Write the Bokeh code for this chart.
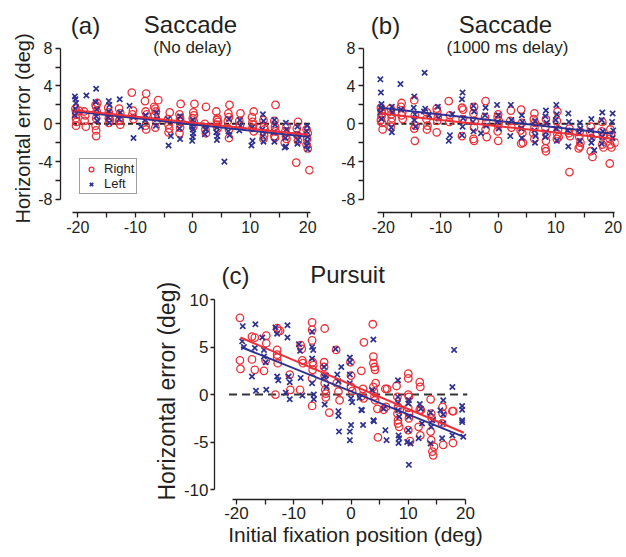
from bokeh.plotting import figure
from bokeh.models import FixedTicker, Label, Legend, LegendItem, Spacer, Range1d, Title
from bokeh.layouts import row, column
from bokeh.embed import file_html
from bokeh.resources import INLINE

RED = "#ed2f37"
BLUE = "#2e3192"
INK = "#231f20"
FONT = "Liberation Sans"

# ---------------- data ----------------
a_right = [(-20.4,1.6),(-20.3,1.3),(-20.2,1.0),(-20.3,0.6),(-20.2,0.2),(-20.3,-0.2),(-19.8,1.4),
           (-18.9,1.3),(-18.7,0.9),(-18.8,0.3),(-18.6,-0.3),
           (-16.6,2.2),(-16.9,2.0),(-16.8,1.8),(-16.7,1.3),(-16.8,0.6),(-16.9,-0.2),(-16.8,-0.7),(-16.8,-1.3),
           (-14.7,1.7),(-14.6,1.2),(-14.5,0.9),(-14.6,0.6),(-14.4,0.4),(-14.6,0.1),
           (-12.8,1.6),(-12.6,1.1),(-12.7,0.4),(-12.8,0.3),(-12.6,-0.1),
           (-10.6,3.3),(-10.4,1.4),(-10.5,1.0),(-10.3,0.5),
           (-8.1,3.2),(-8.3,2.4),(-8.2,1.3),(-8.0,1.0),(-8.2,-0.2),(-8.1,-0.6),
           (-6.0,2.5),(-6.7,1.8),(-6.5,1.6),(-6.4,1.3),(-6.6,0.9),(-6.3,0.3),(-6.5,-0.4),
           (-4.0,1.2),(-4.3,0.5),(-4.2,-0.1),(-4.1,-0.5),(-4.2,-0.9),
           (-2.1,2.1),(-2.3,1.0),(-2.2,0.6),(-2.1,0.2),(-2.2,-0.4),(-2.3,-1.0),
           (0.3,2.1),(0.1,1.2),(0.2,0.9),(0.0,0.6),(0.2,0.2),(0.1,-0.3),
           (2.3,1.8),(2.1,0.0),(2.2,-0.6),(2.3,-1.0),
           (4.1,1.3),(4.3,0.6),(4.2,0.4),(4.4,0.2),(4.2,-0.1),(4.3,-0.5),
           (6.4,2.0),(6.2,1.1),(6.3,0.7),(6.1,0.3),(6.3,-0.6),(6.3,-1.5),
           (8.3,1.1),(8.1,0.3),(8.2,-0.2),
           (10.6,1.3),(10.3,0.7),(10.4,0.2),(10.5,-0.1),(10.4,-0.4),(10.6,-0.8),
           (12.3,0.4),(12.4,-0.3),(12.5,-0.6),(12.4,-1.2),(12.3,-1.6),
           (14.4,2.0),(14.2,0.3),(14.3,-0.3),(14.4,-0.8),(14.2,-1.3),(14.3,-1.5),
           (16.3,-0.3),(16.1,-0.8),(16.2,-1.3),(16.3,-1.6),(16.0,-2.0),
           (18.3,0.2),(18.1,-0.5),(18.2,-1.2),(18.3,-1.8),(18.0,-4.1),
           (19.8,-0.6),(20.0,-1.0),(19.9,-1.6),(19.8,-2.2),(20.0,-2.6),(20.3,-4.9)]
a_left = [(-20.5,2.9),(-20.4,2.6),(-20.3,2.2),(-20.4,1.6),(-20.5,0.9),
          (-18.5,3.0),
          (-16.8,3.7),(-16.9,2.3),(-16.7,1.5),(-16.8,0.8),(-16.6,0.3),
          (-14.6,2.4),(-14.5,2.0),(-14.6,1.3),(-14.7,0.7),(-14.5,0.1),
          (-12.7,2.6),(-12.6,1.2),(-12.8,0.5),
          (-11.0,1.9),(-10.3,0.7),(-10.3,-1.5),(-9.0,-0.3),
          (-8.2,0.9),(-8.3,0.4),
          (-6.3,1.2),(-6.2,0.5),(-6.4,-0.2),
          (-4.2,-2.3),(-4.3,0.5),(-3.8,-1.3),
          (-2.2,0.8),(-2.1,0.2),(-2.3,-0.5),(-2.2,-1.6),
          (0.0,0.4),(0.1,0.0),(-0.1,-0.3),(0.0,-0.6),(0.1,-1.0),(0.0,-1.4),(-0.1,-1.8),
          (2.2,-0.2),(2.3,-0.6),(2.1,-1.1),
          (4.2,-0.4),(4.1,-0.9),(4.3,-1.3),(4.2,-1.7),
          (5.5,-4.0),
          (6.3,0.5),(6.2,-0.8),(6.4,-1.2),
          (8.2,0.4),(8.3,-0.2),(8.1,-0.7),
          (10.3,-0.4),(10.4,-1.8),(10.2,-2.3),
          (12.2,1.0),(12.3,0.3),(12.1,-0.6),(12.2,-1.3),(12.3,-1.9),
          (14.2,0.4),(14.3,-0.1),(14.1,-0.9),(14.2,-1.9),
          (16.2,0.1),(16.3,-0.6),(16.1,-1.5),(16.2,-2.4),(16.0,-2.5),
          (18.2,-0.3),(18.1,-1.1),(18.3,-1.7),(18.2,-2.1),
          (19.9,-0.2),(19.8,-0.8),(20.0,-1.4),(19.9,-1.9),(19.8,-2.3),(20.0,-2.7)]

b_right = [(-20.4,1.7),(-20.3,1.4),(-20.2,1.1),(-20.3,0.8),(-20.4,0.4),(-20.2,0.1),(-20.1,-0.6),
           (-18.7,1.6),(-18.6,1.0),(-18.5,0.6),(-18.6,0.2),(-18.7,-0.3),
           (-16.8,2.2),(-16.9,1.8),(-16.7,1.2),(-16.8,0.9),(-16.6,0.5),
           (-14.6,2.5),(-14.5,0.9),(-14.4,-0.2),(-14.6,-0.5),(-14.5,-1.8),
           (-12.4,1.2),(-12.5,0.5),(-12.3,-0.2),(-12.4,-0.6),
           (-10.7,1.6),(-10.6,1.3),(-10.5,0.7),(-10.6,0.3),(-10.7,-0.9),
           (-8.6,2.4),(-8.4,0.9),(-8.5,0.2),
           (-6.3,1.7),(-6.1,1.5),(-6.2,0.5),(-6.3,-1.3),
           (-4.2,1.8),(-4.3,1.1),(-4.1,0.3),(-4.2,-0.4),(-4.3,-1.6),(-4.2,-1.8),
           (-2.2,2.4),(-2.3,0.7),(-2.1,0.1),(-2.2,-0.6),(-2.0,-1.4),
           (0.0,1.0),(-0.1,0.7),(0.1,0.3),(0.0,-0.2),(-0.1,-0.8),(0.0,-1.8),
           (2.2,1.4),(2.1,0.3),(2.3,-0.4),
           (4.0,1.5),(4.1,0.1),(3.9,-0.7),(4.2,-1.0),(4.0,-2.1),(4.3,-2.0),
           (6.3,1.1),(6.2,0.5),(6.4,0.1),(6.3,-0.4),(6.1,-1.0),(6.3,-1.6),
           (8.3,0.5),(8.2,-0.4),(8.4,-1.1),(8.3,-1.8),(8.2,-2.6),(8.3,-2.9),
           (10.3,1.3),(10.2,0.3),(10.4,-0.6),(10.3,-1.1),(10.5,-1.4),(10.2,-1.6),
           (12.4,-0.5),(12.3,-1.0),(12.5,-1.3),(12.4,-5.1),
           (14.2,-0.8),(14.1,-1.4),(14.3,-2.0),(14.2,-2.4),(14.0,-2.6),
           (16.1,-0.3),(16.0,-0.9),(16.2,-1.5),(16.1,-2.9),(16.4,-3.5),
           (18.1,0.2),(18.0,-0.8),(18.2,-1.3),(18.1,-2.2),(18.3,-2.5),
           (19.5,-0.6),(19.6,-1.2),(19.4,-1.6),(19.5,-2.2),(19.7,-2.5),(19.4,-4.2),(20.3,-2.0)]
b_left = [(-20.5,4.7),(-20.4,3.3),(-20.3,2.1),(-20.4,1.7),(-20.5,1.2),(-20.3,0.5),
          (-18.5,1.8),(-18.4,1.2),(-18.6,-0.4),(-18.5,-0.9),
          (-17.0,4.2),(-16.9,1.5),
          (-14.6,2.9),(-14.7,1.7),(-14.5,1.0),(-14.6,0.4),(-14.4,-0.3),
          (-12.8,5.4),(-12.7,1.6),(-12.9,1.3),(-12.0,0.9),
          (-10.5,1.8),(-10.4,0.6),
          (-8.6,-1.8),(-8.4,-1.2),(-8.0,1.0),
          (-6.2,3.3),(-6.3,2.6),(-6.1,0.6),(-6.2,-0.3),(-6.3,-1.2),
          (-4.3,1.9),(-4.2,1.3),(-4.4,0.2),(-4.3,-0.8),(-3.0,-1.0),
          (-2.2,1.7),(-2.3,0.9),(-2.1,-0.2),
          (-0.2,2.0),(0.0,0.9),(-0.1,0.2),(0.1,-0.5),
          (2.2,2.0),(2.3,0.4),(2.1,-1.3),
          (4.1,0.9),(4.2,0.2),(4.0,-0.5),(4.1,-1.5),
          (6.4,0.3),(6.3,-0.7),(6.5,-1.3),(6.4,-2.0),
          (8.3,1.4),(8.2,0.8),(8.4,0.1),(8.3,-0.9),(8.2,-1.4),
          (10.1,2.0),(10.2,1.0),(10.0,0.4),(10.1,-0.5),(10.2,-1.8),
          (12.2,1.1),(12.3,0.2),(12.1,-0.7),(12.2,-2.4),
          (14.2,0.1),(14.3,-0.5),(14.1,-1.0),(14.2,-1.8),
          (16.2,0.5),(16.1,-0.7),(16.3,-1.5),(16.2,-2.0),(16.7,-2.8),
          (18.1,1.2),(18.0,0.4),(18.2,-0.8),(18.1,-1.4),(18.0,-2.1),
          (19.9,1.1),(19.8,0.2),(20.0,-0.7),(19.9,-1.5)]

c_right = [(-19.4,8.07),(-19.4,3.6),(-19.3,2.7),(-17.3,6.1),(-17.3,3.7),(-16.8,6.0),(-16.8,2.6),
           (-14.8,6.2),(-14.9,3.6),(-15.2,2.5),(-14.8,5.4),
           (-12.9,7.0),(-12.7,6.7),(-12.4,6.7),(-12.9,4.7),(-12.9,4.2),(-12.9,3.9),(-12.8,3.3),(-13.2,0.0),
           (-10.7,2.1),(-10.6,0.5),
           (-8.8,5.2),(-8.6,4.8),(-8.5,3.6),(-8.4,3.3),(-8.9,0.5),
           (-6.8,7.6),(-6.8,6.8),(-6.8,5.7),(-6.7,3.4),(-6.6,3.1),(-6.7,2.6),(-6.8,1.7),(-6.8,-1.2),
           (-4.6,6.95),(-4.7,3.4),(-4.7,2.9),(-4.6,2.0),(-4.6,1.2),(-4.5,0.5),(-4.4,0.1),(-4.4,-0.3),
           (-3.8,-1.9),
           (-2.6,4.7),(-2.5,1.2),(-2.2,0.3),(-2.0,-0.6),
           (-0.1,3.4),(0.0,2.0),(0.0,0.8),(0.2,0.35),
           (1.8,2.5),(2.1,0.6),(1.8,-0.2),(2.2,-0.4),(2.25,5.5),
           (3.8,7.4),(3.9,4.0),(3.9,3.3),(4.1,2.9),(4.2,2.6),(4.3,1.2),(3.9,0.8),(4.0,0.3),(4.1,-0.2),(4.2,-0.6),
           (4.6,-1.5),(4.7,-4.5),
           (6.0,0.6),(6.3,0.6),(6.1,-1.3),(5.7,-1.6),
           (7.95,0.9),(8.1,-0.25),(8.2,-2.7),(8.2,-3.05),(8.4,-3.4),(8.1,-2.0),(8.2,-1.3),(8.5,-1.6),
           (10.0,2.2),(10.0,1.7),(10.0,0.0),(10.1,-0.25),(10.0,-1.4),(10.1,-2.0),(10.1,-2.5),(10.0,-3.75),(10.3,-4.9),
           (12.0,1.3),(12.1,0.8),(12.0,-1.6),(12.2,-1.65),(11.8,-3.4),(12.1,-4.3),
           (13.9,-0.5),(14.0,-2.0),(14.1,-2.5),(13.9,-3.9),(14.0,-4.8),(14.2,-6.0),(14.35,-6.4),(14.5,-5.5),
           (16.0,-1.3),(16.0,-2.0),(15.9,-3.05),(16.1,-5.3),
           (17.7,-1.75),(17.85,-1.75),(17.8,-5.1)]
c_left = [(-18.9,7.2),(-19.0,5.6),(-18.7,5.0),(-16.7,7.4),(-16.8,4.9),(-17.3,1.9),(-16.6,0.4),
          (-15.5,6.0),(-15.2,4.7),(-15.2,4.0),(-14.9,3.4),(-14.8,0.5),
          (-13.2,7.05),(-12.9,6.4),(-12.9,1.9),(-12.7,1.5),
          (-11.4,0.2),(-11.1,7.3),(-11.1,6.0),(-10.9,1.9),(-10.7,1.3),(-10.7,-0.5),
          (-9.1,5.3),(-8.9,4.6),(-8.8,1.75),(-8.5,-0.1),
          (-6.8,6.6),(-6.8,5.0),(-6.6,4.7),(-6.8,3.8),(-6.8,1.2),(-6.5,0.0),(-6.5,-0.5),
          (-4.7,2.9),(-4.7,1.9),(-4.6,-1.05),(-4.4,2.0),(-4.3,0.8),
          (-2.7,4.8),(-2.4,2.1),(-2.2,1.4),(-2.2,-1.75),(-2.2,-2.25),(-2.1,-3.9),(-1.7,2.9),
          (-0.2,3.9),(-0.2,3.4),(-0.2,2.1),(-0.2,1.2),(0.0,-0.4),(0.0,-3.2),(-0.2,-3.9),(-0.2,-4.8),(0.2,-0.8),
          (1.5,-0.35),(1.8,-1.6),(1.9,-1.65),(2.1,-3.2),
          (3.9,5.8),(3.7,0.45),(3.9,-2.7),(4.0,-2.8),
          (5.7,-1.5),(6.0,-3.75),(6.2,-4.8),
          (8.2,1.5),(8.2,-0.25),(8.2,-0.9),(8.2,-1.65),(8.3,-4.3),(8.4,-4.6),(8.3,-5.1),(8.4,-2.35),
          (10.1,-7.4),(10.0,-3.75),(10.1,-2.35),(10.0,-0.95),(10.1,-0.6),(9.8,-5.0),(10.4,-5.15),
          (12.0,-1.0),(11.8,-4.6),(12.2,-1.5),(12.4,-3.05),
          (13.9,-1.9),(14.0,-3.4),(13.9,-5.15),(14.2,-2.7),
          (16.1,-0.6),(16.1,-2.1),(15.9,-4.6),(16.1,-3.05),(15.6,-1.65),
          (18.0,4.7),(17.7,0.8),(17.7,-4.3),
          (19.4,-1.2),(19.4,-1.6),(19.4,-2.7),(19.4,-2.9),(19.6,-4.45)]

# regression line end points
a_fit_x = [-20.5, 20.0]
a_right_fit_y = [1.43, -1.16]
a_left_fit_y = [1.30, -1.37]
b_fit_x = [-20.5, 20.0]
b_right_fit_y = [1.10, -1.57]
b_left_fit_y = [1.69, -1.06]
c_right_fit_x = [-19.3, 19.7]
c_right_fit_y = [6.00, -4.02]
c_left_fit_x = [-19.2, 19.7]
c_left_fit_y = [5.00, -4.46]

zero_x_ab = [-21.0, 20.4]
zero_x_c = [-21.3, 20.3]

x_ticks = [-20, -15, -10, -5, 0, 5, 10, 15, 20]
x_tick_labels = {-20: "-20", -15: "", -10: "-10", -5: "", 0: "0", 5: "", 10: "10", 15: "", 20: "20"}
y_ticks_ab = [-8, -6, -4, -2, 0, 2, 4, 6, 8]
y_tick_labels_ab = {-8: "-8", -6: "", -4: "-4", -2: "", 0: "0", 2: "", 4: "4", 6: "", 8: "8"}
y_ticks_c = [-10, -5, 0, 5, 10]
y_tick_labels_c = {-10: "-10", -5: "-5", 0: "0", 5: "5", 10: "10"}


def xs(pts):
    return [p[0] for p in pts]


def ys(pts):
    return [p[1] for p in pts]


def style_axes(p, tick_size, xb, yb):
    for ax in (p.xaxis[0], p.yaxis[0]):
        ax.axis_line_color = INK
        ax.axis_line_width = 1.3
        ax.major_tick_line_color = INK
        ax.major_tick_line_width = 1.3
        ax.major_tick_in = 0
        ax.major_tick_out = 5
        ax.minor_tick_line_color = None
        ax.major_label_text_font = FONT
        ax.major_label_text_font_size = tick_size
        ax.major_label_text_color = INK
        ax.axis_label_text_font = FONT
        ax.axis_label_text_font_style = "normal"
        ax.axis_label_text_color = INK
    p.xaxis[0].bounds = xb
    p.yaxis[0].bounds = yb
    p.xgrid.grid_line_color = None
    p.ygrid.grid_line_color = None
    p.outline_line_color = None


def add_label(p, x, y, text, size):
    p.add_layout(Label(x=x, y=y, x_units="screen", y_units="screen", text=text,
                       text_font=FONT, text_font_size=size, text_color=INK,
                       text_align="center", text_baseline="middle"))


def side_title(p, text, size, offset, standoff):
    p.add_layout(Title(text=text, align="left", offset=offset, standoff=standoff,
                       text_font=FONT, text_font_size=size, text_font_style="normal",
                       text_color=INK), "left")


def saccade_panel(fw, bl, br, xr, xb, right, left, fit_x, fr, fl, letter, lx, tx, subtitle):
    p = figure(frame_width=fw, frame_height=212, x_range=Range1d(*xr), y_range=Range1d(-9.38, 13.04),
               min_border_left=bl, min_border_right=br, min_border_top=0, min_border_bottom=46,
               output_backend="svg", toolbar_location=None, tools="", title=None)
    p.xaxis.ticker = FixedTicker(ticks=x_ticks)
    p.xaxis.major_label_overrides = x_tick_labels
    p.yaxis.ticker = FixedTicker(ticks=y_ticks_ab)
    p.yaxis.major_label_overrides = y_tick_labels_ab
    style_axes(p, "16px", xb, (-8, 8))
    p.xaxis.major_label_standoff = 3
    p.yaxis.major_label_standoff = 3
    p.line(zero_x_ab, [0, 0], line_color=INK, line_width=2, line_dash="5 3")
    rr = p.scatter(xs(right), ys(right), marker="circle", size=7.5, fill_color=None,
                   line_color=RED, line_width=1.3)
    rl = p.scatter(xs(left), ys(left), marker="x", size=7.5, line_color=BLUE, line_width=1.7)
    p.line(fit_x, fl, line_color=BLUE, line_width=2)
    p.line(fit_x, fr, line_color=RED, line_width=2)
    add_label(p, lx, 187.5, letter, "24px")
    add_label(p, tx, 188, "Saccade", "24px")
    add_label(p, tx + 2, 165.5, subtitle, "17px")
    return p, rr, rl


pa, ra_r, ra_l = saccade_panel(253, 60, 15, (-23.0, 21.0), (-21.0, 20.4), a_right, a_left,
                               a_fit_x, a_right_fit_y, a_left_fit_y, "(a)", 25, 130, "(No delay)")
side_title(pa, "Horizontal error (deg)", "20px", -11, 4)
legend = Legend(items=[LegendItem(label="Right", renderers=[ra_r]),
                       LegendItem(label="Left", renderers=[ra_l])],
                location=(19, 18), border_line_color="#444444", border_line_width=1,
                background_fill_color="white", background_fill_alpha=1.0,
                label_text_font=FONT, label_text_font_size="13px", label_text_color=INK,
                glyph_width=18, glyph_height=12, label_height=12, label_standoff=4,
                padding=2, spacing=0, margin=0)
pa.add_layout(legend)

pb, _, _ = saccade_panel(255, 35, 8, (-23.43, 20.92), (-21.0, 20.3), b_right, b_left,
                         b_fit_x, b_right_fit_y, b_left_fit_y, "(b)", 22, 142, "(1000 ms delay)")

pc = figure(frame_width=282, frame_height=241, x_range=Range1d(-23.84, 25.4), y_range=Range1d(-11.05, 14.32),
            min_border_left=64, min_border_right=0, min_border_top=0, min_border_bottom=52,
            output_backend="svg", toolbar_location=None, tools="", title=None)
pc.xaxis.ticker = FixedTicker(ticks=x_ticks)
pc.xaxis.major_label_overrides = x_tick_labels
pc.yaxis.ticker = FixedTicker(ticks=y_ticks_c)
pc.yaxis.major_label_overrides = y_tick_labels_c
style_axes(pc, "17px", (-20.7, 20.0), (-10, 10))
pc.xaxis.major_label_standoff = 2
pc.yaxis.major_label_standoff = 2
pc.yaxis.major_tick_out = 4
side_title(pc, "Horizontal error (deg)", "23px", -1, 2)
pc.xaxis.axis_label = "Initial fixation position (deg)"
pc.xaxis.axis_label_text_font_size = "21px"
pc.xaxis.axis_label_standoff = 1
pc.line(zero_x_c, [0, 0], line_color="#333333", line_width=2, line_dash="8 5")
pc.scatter(xs(c_right), ys(c_right), marker="circle", size=7.5, fill_color=None, line_color=RED, line_width=1.3)
pc.scatter(xs(c_left), ys(c_left), marker="x", size=7.5, line_color=BLUE, line_width=1.7)
pc.line(c_left_fit_x, c_left_fit_y, line_color=BLUE, line_width=2)
pc.line(c_right_fit_x, c_right_fit_y, line_color=RED, line_width=2)
add_label(pc, 21, 224.5, "(c)", "24px")
add_label(pc, 133, 225, "Pursuit", "24px")

layout = column(row(pa, pb), row(Spacer(width=150, height=10), pc))
open("out.html", "w").write(file_html(layout, INLINE))
